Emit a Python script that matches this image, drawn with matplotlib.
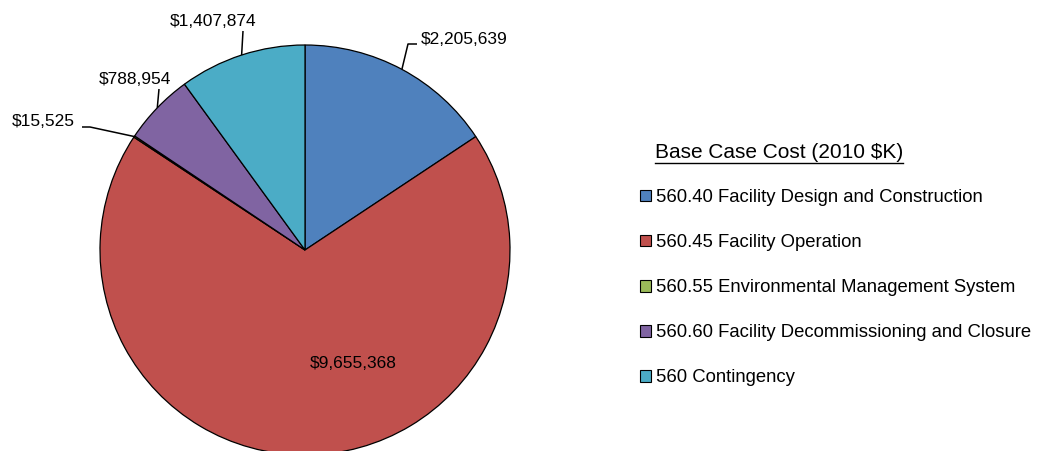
import matplotlib
matplotlib.use("Agg")
import matplotlib.pyplot as plt
import numpy as np

categories = [
    "560.40 Facility Design and Construction",
    "560.45 Facility Operation",
    "560.55 Environmental Management System",
    "560.60 Facility Decommissioning and Closure",
    "560 Contingency",
]
values = [2205639, 9655368, 15525, 788954, 1407874]
value_labels = ["$2,205,639", "$9,655,368", "$15,525", "$788,954", "$1,407,874"]
colors = ["#4F81BD", "#C0504D", "#9BBB59", "#8064A2", "#4BACC6"]
legend_title = "Base Case Cost (2010 $K)"

W, H = 1039, 451
plt.rcParams["font.family"] = ["Liberation Sans", "DejaVu Sans"]
fig = plt.figure(figsize=(W / 100, H / 100), dpi=100)
ax = fig.add_axes([0, 0, 1, 1])

cx, cy, r = 305, H - 250, 205
wedges, _ = ax.pie(values, colors=colors, startangle=90, counterclock=False,
                   center=(cx, cy), radius=r,
                   wedgeprops=dict(edgecolor="black", linewidth=0.9))
ax.set_xlim(0, W)
ax.set_ylim(0, H)
ax.set_aspect("equal")
ax.axis("off")

# label layout (image pixel coords): text position, alignment, leader elbow, leader end
label_layout = [
    dict(text=(421, 40), ha="left", pts=[(408, 44), (417, 44)]),
    dict(text=(353, 363), ha="center", pts=None),
    dict(text=(43, 122), ha="center", pts=[(90, 127), (82, 127)]),
    dict(text=(134.5, 79), ha="center", pts=[(159, 89)]),
    dict(text=(213.5, 21), ha="center", pts=[(243, 31)]),
]

for w, lab, lay in zip(wedges, value_labels, label_layout):
    tx, ty = lay["text"]
    ax.text(tx, H - ty, lab, ha=lay["ha"], va="center", fontsize=12.5, color="black")
    if lay["pts"]:
        mid = np.deg2rad((w.theta1 + w.theta2) / 2)
        ax0 = cx + r * np.cos(mid)
        ay0 = cy + r * np.sin(mid)
        xs = [ax0] + [p[0] for p in lay["pts"]]
        ys = [ay0] + [H - p[1] for p in lay["pts"]]
        ax.plot(xs, ys, color="black", lw=1.1, solid_capstyle="butt")

# legend
leg = fig.legend(wedges, categories, loc="upper left",
                 bbox_to_anchor=(640 / W, 1 - 189 / H),
                 frameon=False, fontsize=13.3, handlelength=0.6, handleheight=0.6,
                 handletextpad=0.25, labelspacing=1.52, borderpad=0, borderaxespad=0)
for h in leg.legend_handles:
    h.set_linewidth(0.8)

t = fig.text(655 / W, 1 - 152 / H, legend_title, ha="left", va="center", fontsize=15)
fig.canvas.draw()
bb = t.get_window_extent()
fig.add_artist(plt.Line2D([bb.x0 / W, bb.x1 / W], [(bb.y0 - 1) / H, (bb.y0 - 1) / H],
                          transform=fig.transFigure, color="black", lw=1))

fig.savefig("out.png", dpi=100)
